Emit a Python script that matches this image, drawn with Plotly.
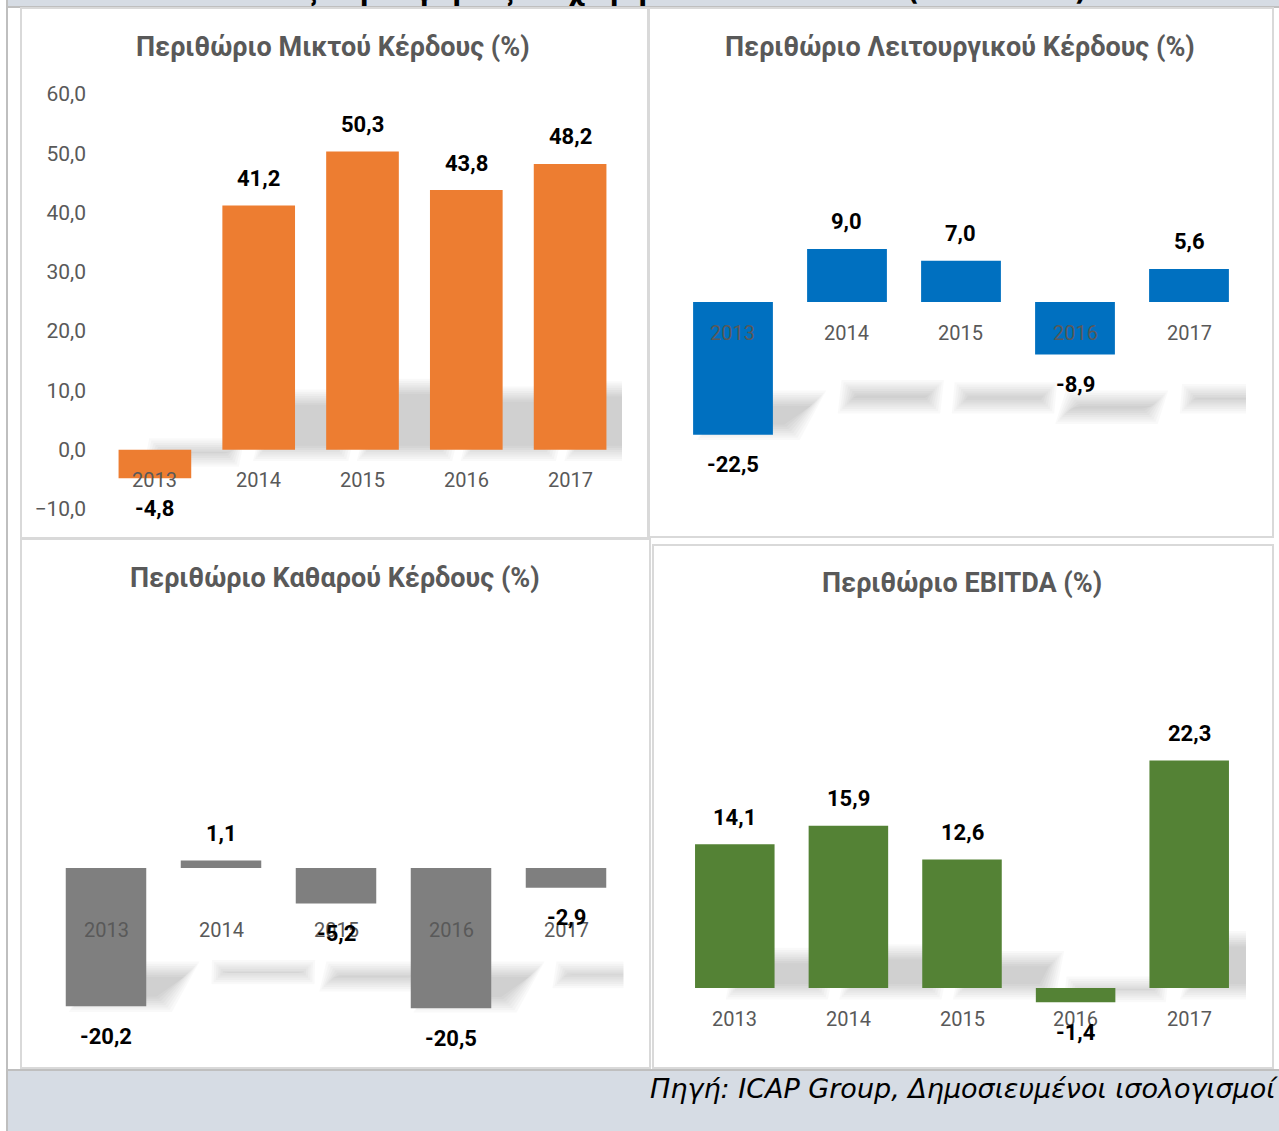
import plotly.graph_objects as go

# ---------------- data ----------------
years = ["2013", "2014", "2015", "2016", "2017"]
gross_margin = [-4.8, 41.2, 50.3, 43.8, 48.2]
operating_margin = [-22.5, 9.0, 7.0, -8.9, 5.6]
net_margin = [-20.2, 1.1, -5.2, -20.5, -2.9]
ebitda_margin = [14.1, 15.9, 12.6, -1.4, 22.3]

titles = [
    "Περιθώριο Μικτού Κέρδους (%)",
    "Περιθώριο Λειτουργικού Κέρδους (%)",
    "Περιθώριο Καθαρού Κέρδους (%)",
    "Περιθώριο EBITDA (%)",
]
main_title = "Δείκτες κερδοφορίας επιχειρήσεων του κλάδου (2013-2017)"
source_note = "Πηγή: ICAP Group, Δημοσιευμένοι ισολογισμοί"
gross_ticks = [-10, 0, 10, 20, 30, 40, 50, 60]

W, H = 1279, 1131
FONT = "Roboto"
GREY_TXT = "#595959"
BAR_WIDTH = 0.7

def px_x(v):
    return v / W

def px_y(v):
    return 1 - v / H

# plot-area geometry (pixels) and styling per panel; shadow_drop = offset of the soft floor shadow
panels = [
    dict(vals=gross_margin, color="#ED7D31", l=103, r=622, t=94, b=509, rng=[-10, 60],
         cat_shift=-30, title_xy=(333, 47), box=(21, 8, 648, 538), show_y=True, shadow_drop=0),
    dict(vals=operating_margin, color="#0070C0", l=676, r=1246, t=213.5, b=479, rng=[-30, 15],
         cat_shift=-31, title_xy=(960, 47), box=(649, 8, 1273, 537), show_y=False, shadow_drop=100),
    dict(vals=net_margin, color="#7F7F7F", l=48.5, r=623.5, t=799.5, b=1039, rng=[-25, 10],
         cat_shift=-62, title_xy=(335, 578), box=(21, 539, 650, 1068), show_y=False, shadow_drop=105),
    dict(vals=ebitda_margin, color="#548235", l=678, r=1246, t=733, b=1039, rng=[-5, 25],
         cat_shift=-31, title_xy=(962, 583), box=(653, 545, 1273, 1068), show_y=False, shadow_drop=0),
]

fig = go.Figure()
shapes = []
annotations = []

# background strips and frame
shapes.append(dict(type="rect", xref="paper", yref="paper", x0=px_x(7), x1=px_x(W + 5), y0=px_y(7), y1=px_y(-5),
                   fillcolor="#D6DCE4", line=dict(width=0), layer="below"))
shapes.append(dict(type="line", xref="paper", yref="paper", x0=px_x(7), x1=px_x(W), y0=px_y(7), y1=px_y(7),
                   line=dict(color="#BFBFBF", width=2), layer="below"))
shapes.append(dict(type="rect", xref="paper", yref="paper", x0=px_x(7), x1=px_x(W + 5), y0=px_y(H + 5), y1=px_y(1070),
                   fillcolor="#D6DCE4", line=dict(width=0), layer="below"))
shapes.append(dict(type="line", xref="paper", yref="paper", x0=px_x(7), x1=px_x(W), y0=px_y(1070), y1=px_y(1070),
                   line=dict(color="#BFBFBF", width=2), layer="below"))
shapes.append(dict(type="line", xref="paper", yref="paper", x0=px_x(7), x1=px_x(7), y0=0, y1=1,
                   line=dict(color="#BFBFBF", width=2), layer="below"))

for i, p in enumerate(panels, start=1):
    xa = "x" if i == 1 else f"x{i}"
    ya = "y" if i == 1 else f"y{i}"
    bx0, by0, bx1, by1 = p["box"]
    shapes.append(dict(type="rect", xref="paper", yref="paper",
                       x0=px_x(bx0), x1=px_x(bx1), y0=px_y(by1), y1=px_y(by0),
                       fillcolor="white", line=dict(color="#D9D9D9", width=2), layer="below"))

    idx = list(range(len(years)))
    fig.add_trace(go.Bar(x=idx, y=p["vals"], width=BAR_WIDTH,
                         marker=dict(color=p["color"], line=dict(width=0)),
                         customdata=years, hovertemplate="%{customdata}: %{y}<extra></extra>",
                         xaxis=xa, yaxis=ya, showlegend=False))

    xkey = "xaxis" if i == 1 else f"xaxis{i}"
    ykey = "yaxis" if i == 1 else f"yaxis{i}"
    fig.layout[xkey] = dict(domain=[px_x(p["l"]), px_x(p["r"])], anchor=ya, range=[-0.5, 4.5],
                            type="linear", showticklabels=False, showgrid=False, zeroline=False,
                            showline=False, ticks="", fixedrange=True, automargin=False)
    ydict = dict(domain=[px_y(p["b"]), px_y(p["t"])], anchor=xa, range=p["rng"], showgrid=False,
                 zeroline=False, showline=False, ticks="", fixedrange=True, automargin=False)
    if p["show_y"]:
        ydict.update(tickvals=gross_ticks, tickformat=".1f", showticklabels=True,
                     tickfont=dict(family=FONT, size=21, color=GREY_TXT), ticklabelstandoff=16)
    else:
        ydict.update(showticklabels=False)
    fig.layout[ykey] = ydict

    # soft "perspective" shadows (Excel shape effect), derived from each bar's value
    px_per_cat = (p["r"] - p["l"]) / 5.0
    px_per_unit = (p["b"] - p["t"]) / (p["rng"][1] - p["rng"][0])
    drop = p["shadow_drop"] / px_per_unit          # in data units
    shift = 42 / px_per_cat                          # horizontal offset in category units
    for k, v in enumerate(p["vals"]):
        sh = 0.2 * abs(v)                            # flattened shadow height (data units)
        sgn = 1 if v >= 0 else -1
        base = -drop
        far = base + sgn * sh
        skew = (0.35 if v >= 0 else -1.0) * sh * px_per_unit / px_per_cat
        for layer_i in range(8):
            e = layer_i * 2.2 - 4
            e_x = e / px_per_cat
            e_y = e / px_per_unit
            xa0 = k - BAR_WIDTH / 2 + shift - e_x
            xa1 = k + BAR_WIDTH / 2 + shift + e_x
            yb = base - sgn * e_y
            yf = far + sgn * e_y
            if sgn * (yf - yb) <= 0:
                mid = (yb + yf) / 2
                yb, yf = mid - sgn * 0.3 / px_per_unit, mid + sgn * 0.3 / px_per_unit
            path = (f"M {xa0},{yb} L {xa1},{yb} L {xa1 + skew},{yf} L {xa0 + skew},{yf} Z")
            shapes.append(dict(type="path", xref=xa, yref=ya, path=path,
                               fillcolor="rgba(0,0,0,0.024)", line=dict(width=0), layer="below"))

    # category labels next to the zero line
    for k, yr in enumerate(years):
        annotations.append(dict(x=k, y=0, xref=xa, yref=ya, text=yr, showarrow=False,
                                yanchor="middle", yshift=p["cat_shift"],
                                font=dict(family=FONT, size=20, color=GREY_TXT)))
    # value labels
    for k, v in enumerate(p["vals"]):
        annotations.append(dict(x=k, y=v, xref=xa, yref=ya, text=f"{v:.1f}".replace(".", ","),
                                showarrow=False, yanchor="middle", yshift=27 if v >= 0 else -30,
                                font=dict(family=FONT, size=22, color="black", weight="bold")))
    tx, ty = p["title_xy"]
    annotations.append(dict(x=px_x(tx), y=px_y(ty), xref="paper", yref="paper", text=titles[i - 1],
                            showarrow=False, xanchor="center", yanchor="middle",
                            font=dict(family=FONT, size=27, color=GREY_TXT, weight="bold")))

# main title (cut off at the top edge, as in the reference)
annotations.append(dict(x=px_x(648), y=px_y(8), xref="paper", yref="paper", text=main_title,
                        showarrow=False, xanchor="center", yanchor="bottom",
                        font=dict(family="DejaVu Sans", size=26, color="black", weight="bold")))
# source
annotations.append(dict(x=px_x(1280), y=px_y(1088), xref="paper", yref="paper", text=source_note,
                        showarrow=False, xanchor="right", yanchor="middle",
                        font=dict(family="DejaVu Sans", size=27, color="black", style="italic")))

fig.update_layout(width=W, height=H, margin=dict(l=0, r=0, t=0, b=0, pad=0, autoexpand=False),
                  autosize=False, paper_bgcolor="white", plot_bgcolor="rgba(0,0,0,0)", separators=",.",
                  shapes=shapes, annotations=annotations, showlegend=False)

fig.write_html("out.html", config=dict(displayModeBar=False),
               post_script="document.body.style.margin='0px';document.body.style.overflow='hidden';")
